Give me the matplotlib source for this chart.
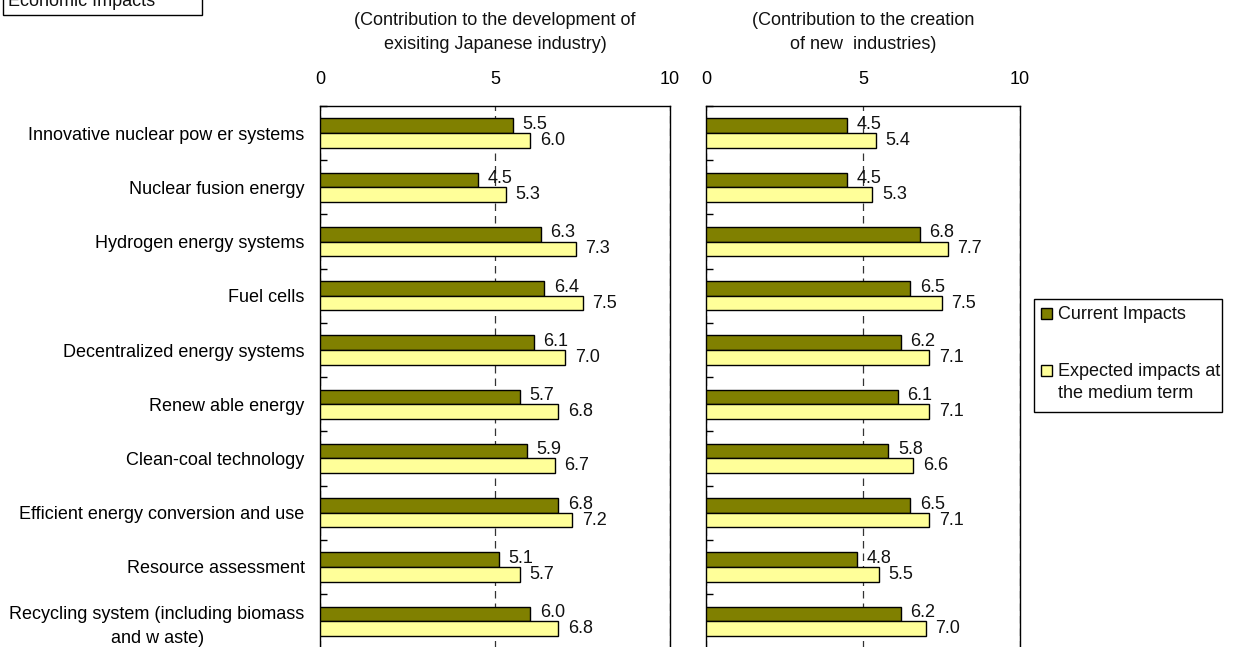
import numpy as np
import matplotlib.pyplot as plt
from matplotlib.patches import Rectangle

plt.rcParams['font.family'] = ['Liberation Sans', 'DejaVu Sans']
plt.rcParams['text.color'] = '#111111'

# categories and scores (0-10 scale)
categories = [
    'Innovative nuclear pow er systems',
    'Nuclear fusion energy',
    'Hydrogen energy systems',
    'Fuel cells',
    'Decentralized energy systems',
    'Renew able energy',
    'Clean-coal technology',
    'Efficient energy conversion and use',
    'Resource assessment',
    'Recycling system (including biomass\nand w aste)',
]
dev_current = [5.5, 4.5, 6.3, 6.4, 6.1, 5.7, 5.9, 6.8, 5.1, 6.0]
dev_expected = [6.0, 5.3, 7.3, 7.5, 7.0, 6.8, 6.7, 7.2, 5.7, 6.8]
new_current = [4.5, 4.5, 6.8, 6.5, 6.2, 6.1, 5.8, 6.5, 4.8, 6.2]
new_expected = [5.4, 5.3, 7.7, 7.5, 7.1, 7.1, 6.6, 7.1, 5.5, 7.0]
series_names = ['Current Impacts', 'Expected impacts at\nthe medium term']

c_dark = '#808000'
c_light = '#FFFF99'
fs = 13

W, H = 1235, 647
fig = plt.figure(figsize=(W / 100, H / 100), dpi=100)

ax1 = fig.add_axes([320 / W, -0.002, 350 / W, (647 - 106) / H + 0.002])
ax2 = fig.add_axes([706 / W, -0.002, 314 / W, (647 - 106) / H + 0.002])

y = np.arange(len(categories))
h = 0.27


def draw_panel(ax, cur, exp, title):
    ax.barh(y - h / 2, cur, height=h, color=c_dark, edgecolor='black', linewidth=1, zorder=3)
    ax.barh(y + h / 2, exp, height=h, color=c_light, edgecolor='black', linewidth=1, zorder=3)
    for i in range(len(y)):
        ax.annotate('%.1f' % cur[i], (cur[i], y[i] - h / 2), xytext=(7, 1),
                    textcoords='offset points', va='center', ha='left', fontsize=fs)
        ax.annotate('%.1f' % exp[i], (exp[i], y[i] + h / 2), xytext=(7, 0),
                    textcoords='offset points', va='center', ha='left', fontsize=fs)
    ax.set_xlim(0, 10)
    ax.set_ylim(len(y) - 0.5, -0.5)
    ax.set_xticks([0, 5, 10])
    ax.xaxis.tick_top()
    ax.tick_params(axis='x', length=0, pad=13, labelsize=fs)
    ax.set_yticks(y)
    ax.set_yticks(np.arange(-0.5, len(y), 1), minor=True)
    ax.tick_params(axis='y', which='major', length=0, pad=11, labelsize=fs)
    ax.tick_params(axis='y', which='minor', length=5, direction='in', width=1)
    ax.spines['bottom'].set_visible(False)
    for s in ['top', 'left', 'right']:
        ax.spines[s].set_linewidth(1)
    ax.xaxis.grid(True, linestyle=(0, (6, 4)), color='#333333', linewidth=0.9, zorder=0)
    ax.set_axisbelow(True)
    ax.set_title(title, fontsize=fs, pad=41, linespacing=1.55)


draw_panel(ax1, dev_current, dev_expected,
           '(Contribution to the development of\nexisiting Japanese industry)')
ax1.set_yticklabels(categories, multialignment='center', linespacing=1.5)

draw_panel(ax2, new_current, new_expected,
           '(Contribution to the creation\nof new  industries)')
ax2.set_yticklabels([])

# header box at top left
fig.patches.append(Rectangle((3 / W, 1 - 15 / H), 199 / W, 30 / H, transform=fig.transFigure,
                             facecolor='white', edgecolor='black', linewidth=1))
fig.text(8 / W, 1 - 1 / H, 'Economic Impacts', fontsize=fs, ha='left', va='center')

# legend box drawn by hand so the handle sits on the first line of a wrapped label
fig.patches.append(Rectangle((1034 / W, 1 - 412 / H), 188 / W, 113 / H, transform=fig.transFigure,
                             facecolor='white', edgecolor='black', linewidth=1))
for name, col, yc in zip(series_names, [c_dark, c_light], [313, 370]):
    fig.patches.append(Rectangle((1041 / W, 1 - (yc + 5.5) / H), 11 / W, 11 / H,
                                 transform=fig.transFigure, facecolor=col,
                                 edgecolor='black', linewidth=1))
    fig.text(1058 / W, 1 - (yc - 7) / H, name, fontsize=fs, ha='left', va='top',
             linespacing=1.42)

fig.savefig('out.png', dpi=100)
